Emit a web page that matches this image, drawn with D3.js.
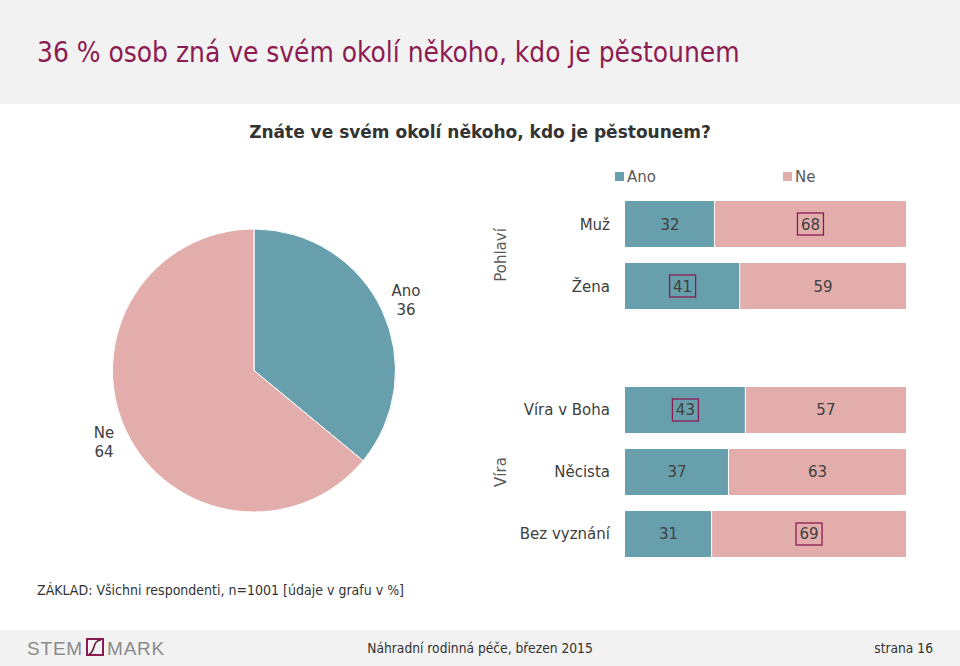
<!DOCTYPE html>
<html><head><meta charset="utf-8">
<script src="https://cdn.jsdelivr.net/npm/d3@7"></script>
<style>body{margin:0;background:#fff;}svg{display:block;font-family:"DejaVu Sans",Verdana,sans-serif;}</style>
</head><body>
<svg id="c" width="960" height="666"></svg>
<script>
const seriesNames = ["Ano", "Ne"];
const pieValues = [36, 64];
const categories = ["Muž", "Žena", "Víra v Boha", "Něcista", "Bez vyznání"];
const groups = ["Pohlaví", "Pohlaví", "Víra", "Víra", "Víra"];
const anoValues = [32, 41, 43, 37, 31];
const neValues = [68, 59, 57, 63, 69];
const highlighted = [[false, true], [true, false], [true, false], [false, false], [false, true]];
const colors = ["#689fad", "#e2adab"];

const svg = d3.select("#c");
const maroon = "#8c1b52";
const textCol = "#404040";
const cond = "'DejaVu Sans Condensed','DejaVu Sans',sans-serif";

// header
svg.append("rect").attr("x",0).attr("y",0).attr("width",960).attr("height",104).attr("fill","#f2f2f2");
svg.append("text").attr("x",37).attr("y",62).attr("fill",maroon)
  .style("font-family",cond).style("font-size","27.8px")
  .text("36 % osob zná ve svém okolí někoho, kdo je pěstounem");

svg.append("text").attr("x",480).attr("y",138).attr("text-anchor","middle").attr("fill","#333")
  .style("font-weight","bold").style("font-size","17px")
  .text("Znáte ve svém okolí někoho, kdo je pěstounem?");

// legend
const leg = [{x:615},{x:783}];
seriesNames.forEach((s,i)=>{
  svg.append("rect").attr("x",leg[i].x).attr("y",172).attr("width",9).attr("height",9).attr("fill",colors[i]);
  svg.append("text").attr("x",leg[i].x+12).attr("y",182).attr("fill","#595959").style("font-size","15px").text(s);
});

// pie
const cx = 254, cy = 370.5, R = 141.5;
const pie = d3.pie().sort(null).value(d=>d);
const arc = d3.arc().innerRadius(0).outerRadius(R);
const pg = svg.append("g").attr("transform",`translate(${cx},${cy})`);
pg.selectAll("path").data(pie(pieValues)).join("path")
  .attr("d",arc).attr("fill",(d,i)=>colors[i]).attr("stroke","#fff").attr("stroke-width",1);
const pieLabelPos = [[406,296],[104,438]];
pieValues.forEach((v,i)=>{
  const t = svg.append("text").attr("text-anchor","middle").attr("fill",textCol).style("font-size","15px");
  t.append("tspan").attr("x",pieLabelPos[i][0]).attr("y",pieLabelPos[i][1]).text(seriesNames[i]);
  t.append("tspan").attr("x",pieLabelPos[i][0]).attr("y",pieLabelPos[i][1]+19).text(v);
});

// bars
const slots = ["Muž","Žena","__gap","Víra v Boha","Něcista","Bez vyznání"];
const y = d3.scaleBand().domain(slots).range([201,557]).paddingInner(0.258).paddingOuter(0);
const x = d3.scaleLinear().domain([0,100]).range([625,906]);
const rows = categories.map((c,i)=>({cat:c, vals:[anoValues[i], neValues[i]], hl:highlighted[i]}));
const bg = svg.append("g");
rows.forEach(r=>{
  let acc = 0;
  r.vals.forEach((v,j)=>{
    const x0 = x(acc), x1 = x(acc+v);
    bg.append("rect").attr("x",x0).attr("y",y(r.cat)).attr("width",x1-x0 - (j===0?1:0)).attr("height",y.bandwidth()).attr("fill",colors[j]);
    const mx = (x0+x1)/2, my = y(r.cat)+y.bandwidth()/2;
    bg.append("text").attr("x",mx).attr("y",my+5.5).attr("text-anchor","middle").attr("fill",textCol)
      .style("font-size","15px").text(v);
    if (r.hl[j]) {
      bg.append("rect").attr("x",mx-13).attr("y",my-11).attr("width",26).attr("height",22)
        .attr("fill","none").attr("stroke",maroon).attr("stroke-width",1.3);
    }
    acc += v;
  });
  svg.append("text").attr("x",610).attr("y",y(r.cat)+y.bandwidth()/2+5.5)
    .attr("text-anchor","end").attr("fill",textCol).style("font-size","15px").text(r.cat);
});

// group labels
const grpNames = ["Pohlaví","Víra"];
grpNames.forEach(g=>{
  const cats = categories.filter((c,i)=>groups[i]===g);
  const top = y(cats[0]), bot = y(cats[cats.length-1])+y.bandwidth();
  const mid = g==="Víra" ? y(cats[1])+y.bandwidth()/2 : (top+bot)/2;
  svg.append("text").attr("transform",`translate(506,${mid}) rotate(-90)`).attr("text-anchor","middle")
    .attr("fill","#595959").style("font-size","15px").text(g);
});

// base note
svg.append("text").attr("x",37).attr("y",595).attr("fill","#333")
  .style("font-family",cond).style("font-size","14px")
  .text("ZÁKLAD: Všichni respondenti, n=1001 [údaje v grafu v %]");

// footer
svg.append("rect").attr("x",0).attr("y",630).attr("width",960).attr("height",36).attr("fill","#f2f2f2");
const logo = svg.append("g");
const logoFont = "'Liberation Sans',sans-serif";
logo.append("text").attr("x",27).attr("y",655).attr("fill","#8a8a8a")
  .style("font-family",logoFont).style("font-size","19px").style("letter-spacing","0.8px").text("STEM");
logo.append("rect").attr("x",87).attr("y",639).attr("width",16).attr("height",16).attr("fill","none").attr("stroke",maroon).attr("stroke-width",2);
logo.append("path").attr("d","M89,654 C95,654 92,640 101,640").attr("fill","none").attr("stroke","#5a1a35").attr("stroke-width",1.6);
logo.append("text").attr("x",107).attr("y",655).attr("fill","#8a8a8a")
  .style("font-family",logoFont).style("font-size","19px").style("letter-spacing","0.8px").text("MARK");
svg.append("text").attr("x",480).attr("y",653).attr("text-anchor","middle").attr("fill","#333")
  .style("font-family",cond).style("font-size","13.7px")
  .text("Náhradní rodinná péče, březen 2015");
svg.append("text").attr("x",933).attr("y",653).attr("text-anchor","end").attr("fill","#333")
  .style("font-family",cond).style("font-size","13.7px")
  .text("strana 16");
</script>
</body></html>
